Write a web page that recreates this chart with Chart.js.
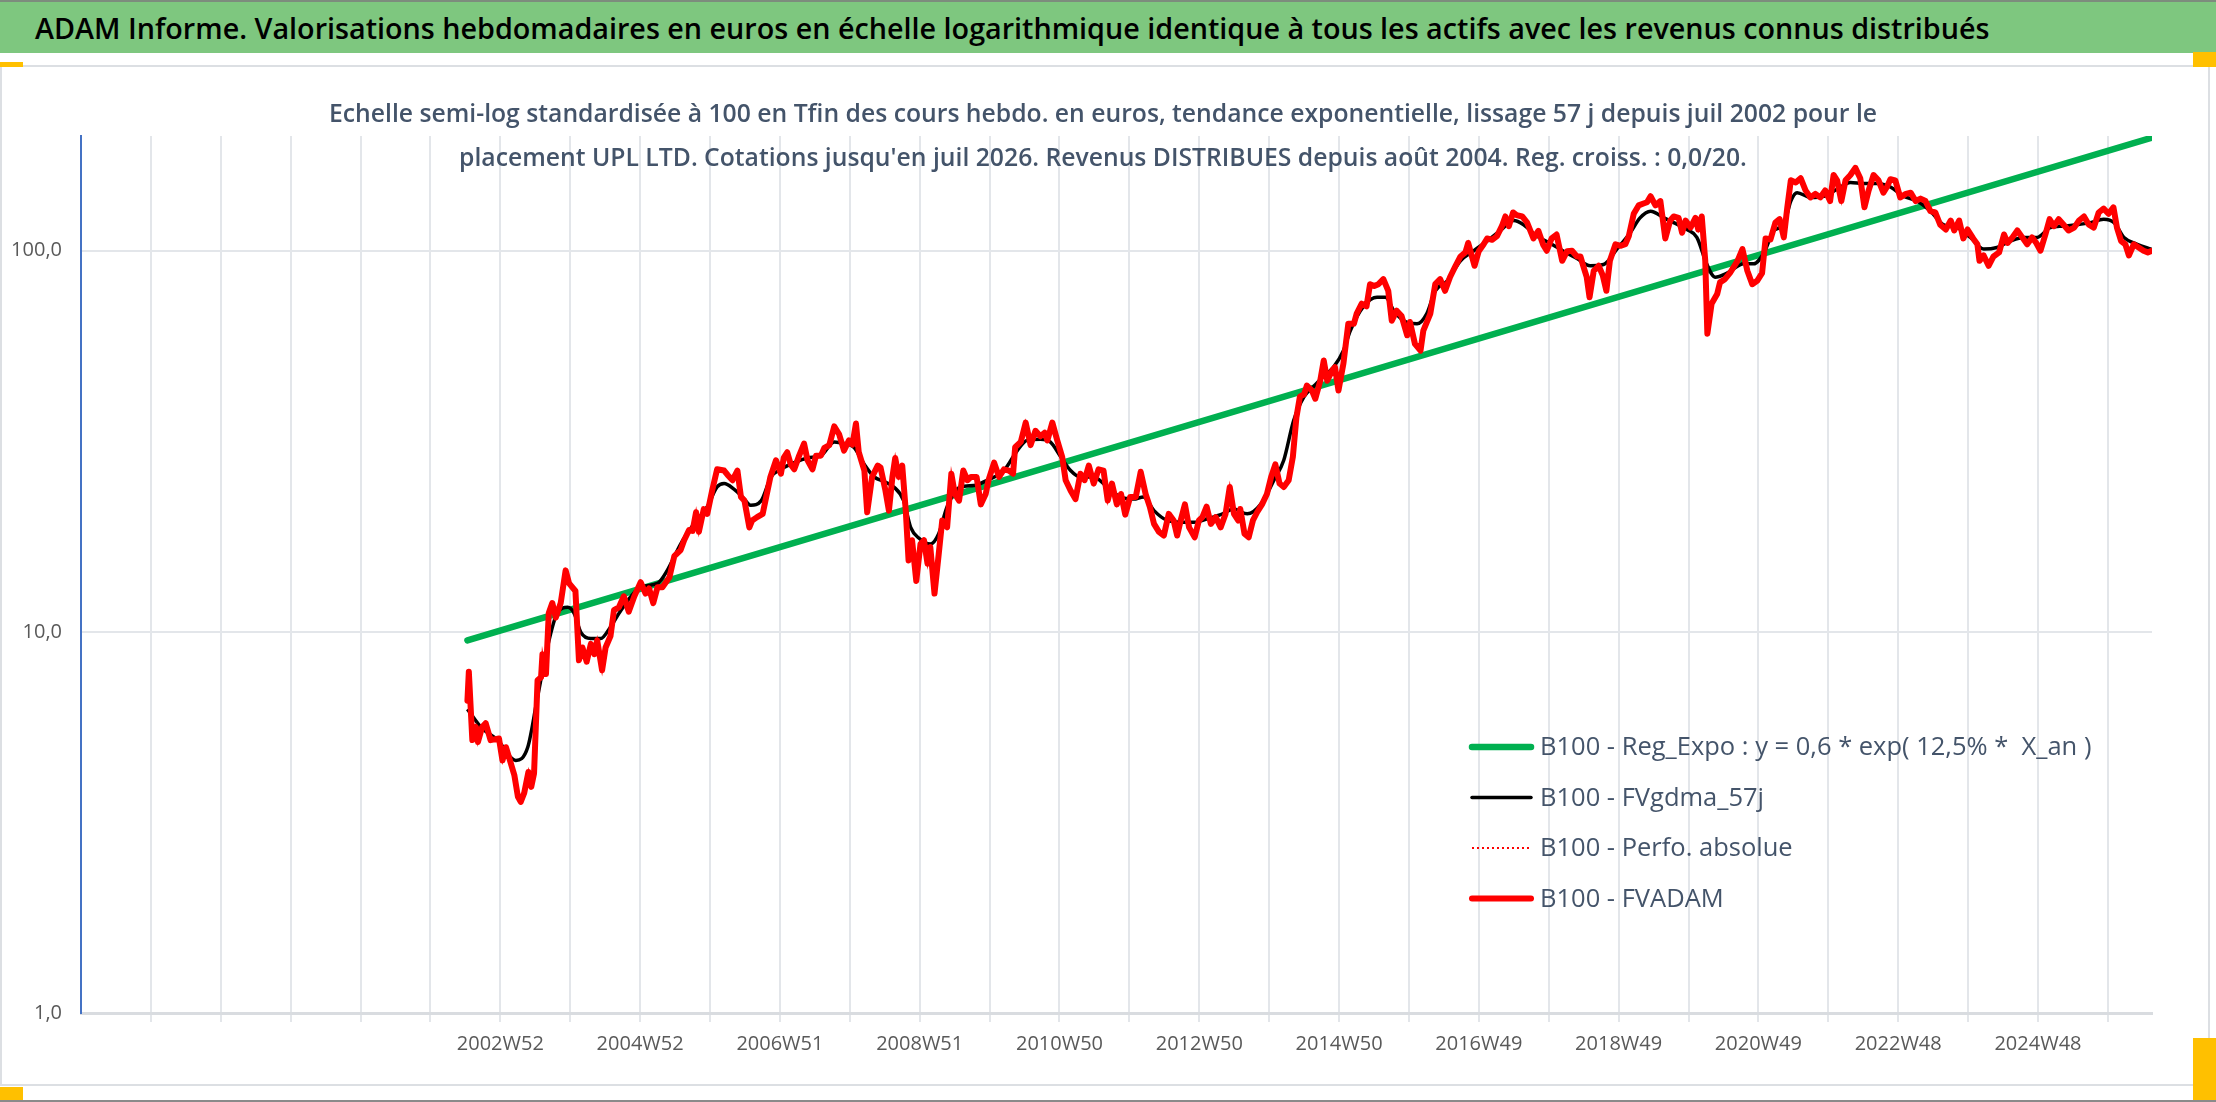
<!DOCTYPE html>
<html lang="fr">
<head>
<meta charset="utf-8">
<title>ADAM Informe - UPL LTD</title>
<script src="https://cdn.jsdelivr.net/npm/chart.js@4.4.1/dist/chart.umd.min.js"></script>
<style>
  html, body { margin: 0; padding: 0; background: #fff; }
  body { width: 2216px; height: 1102px; position: relative; overflow: hidden; font-family: "Open Sans", sans-serif; }
  .deco { position: absolute; pointer-events: none; }
  #topLine { left: 0; top: 0; width: 2216px; height: 2px; background: #7d8c7d; }
  #bar { left: 0; top: 2px; width: 2216px; height: 51px; background: #7ec77f; }
  #title { position: absolute; left: 35px; top: 0; line-height: 51px; white-space: nowrap; font-weight: 600; color: #000; font-size: 30px; }
  #frame { left: 0; top: 65px; width: 2206px; height: 1017px; border: 2px solid #dcdfe3; }
  .handle { background: #ffc000; }
  #bottomLine { left: 0; top: 1100px; width: 2216px; height: 2px; background: #8a8a8a; }
  #chartBox { position: absolute; left: 0; top: 0; width: 2216px; height: 1102px; }
  .sub { position: absolute; left: 0; width: 2206px; text-align: center; white-space: nowrap; color: #44546a; font-weight: 600; line-height: 44px; font-size: 24px; pointer-events: none; }
  #sub1 { top: 91px; }
  #sub2 { top: 135px; }
</style>
</head>
<body>
<div id="frame" class="deco"></div>
<div id="chartBox"><canvas id="chart"></canvas></div>
<div id="topLine" class="deco"></div>
<div id="bar" class="deco"><span id="title">ADAM Informe. Valorisations hebdomadaires en euros en échelle logarithmique identique à tous les actifs avec les revenus connus distribués</span></div>
<div class="deco handle" style="left:0;top:62px;width:23px;height:5px"></div>
<div class="deco handle" style="left:2193px;top:52px;width:23px;height:15px"></div>
<div class="deco handle" style="left:0;top:1087px;width:23px;height:13px"></div>
<div class="deco handle" style="left:2193px;top:1038px;width:23px;height:62px"></div>
<div id="bottomLine" class="deco"></div>
<div id="sub1" class="sub"><span>Echelle semi-log standardisée à 100 en Tfin des cours hebdo. en euros, tendance exponentielle, lissage 57 j depuis juil 2002 pour le</span></div>
<div id="sub2" class="sub"><span>placement UPL LTD. Cotations jusqu'en juil 2026. Revenus DISTRIBUES depuis août 2004. Reg. croiss. : 0,0/20.</span></div>
<script>
// X axis: decimal years, one grid line every 52 weeks, label every 104 weeks
const axisStart = 1997.0;
const axisEnd = 2026.53;
const tickLabels = ['', '', '', '', '', '', '2002W52', '', '2004W52', '', '2006W51', '', '2008W51', '', '2010W50', '',
  '2012W50', '', '2014W50', '', '2016W49', '', '2018W49', '', '2020W49', '', '2022W48', '', '2024W48', ''];
const yTicks = [1, 10, 100];

// B100 - FVADAM (weekly valuation, base 100 at the end)
const adamYears = [
  2002.51, 2002.53, 2002.58, 2002.63, 2002.66, 2002.72, 2002.77, 2002.84, 2002.96, 2003.01,
  2003.06, 2003.13, 2003.18, 2003.23, 2003.27, 2003.32, 2003.38, 2003.42, 2003.46, 2003.51,
  2003.56, 2003.58, 2003.63, 2003.67, 2003.72, 2003.77, 2003.84, 2003.91, 2003.96, 2004.05,
  2004.10, 2004.15, 2004.21, 2004.27, 2004.32, 2004.36, 2004.43, 2004.48, 2004.55, 2004.60,
  2004.67, 2004.74, 2004.81, 2004.89, 2004.98, 2005.05, 2005.10, 2005.16, 2005.22, 2005.29,
  2005.39, 2005.46, 2005.55, 2005.60, 2005.67, 2005.72, 2005.77, 2005.81, 2005.88, 2005.93,
  2006.00, 2006.07, 2006.17, 2006.22, 2006.29, 2006.36, 2006.41, 2006.46, 2006.53, 2006.57,
  2006.64, 2006.72, 2006.79, 2006.83, 2006.91, 2006.98, 2007.02, 2007.07, 2007.12, 2007.17,
  2007.24, 2007.31, 2007.36, 2007.43, 2007.48, 2007.55, 2007.60, 2007.67, 2007.74, 2007.81,
  2007.88, 2007.95, 2008.00, 2008.05, 2008.09, 2008.17, 2008.21, 2008.28, 2008.36,
  2008.40, 2008.47, 2008.52, 2008.57, 2008.61, 2008.66, 2008.71, 2008.76, 2008.80, 2008.85,
  2008.91, 2008.97, 2009.02, 2009.07, 2009.11, 2009.17, 2009.23, 2009.28, 2009.35, 2009.41,
  2009.46, 2009.52, 2009.58, 2009.64, 2009.69, 2009.77, 2009.83, 2009.90, 2009.94, 2010.02,
  2010.09, 2010.16, 2010.23, 2010.29, 2010.32, 2010.40, 2010.47, 2010.54, 2010.61, 2010.68,
  2010.74, 2010.78, 2010.85, 2010.92, 2010.99, 2011.04, 2011.11, 2011.18, 2011.25, 2011.31,
  2011.37, 2011.44, 2011.51, 2011.58, 2011.64, 2011.70, 2011.77, 2011.83, 2011.89, 2011.96,
  2012.04, 2012.11, 2012.18, 2012.24, 2012.30, 2012.37, 2012.44, 2012.51, 2012.58, 2012.63,
  2012.68, 2012.74, 2012.80, 2012.88, 2012.94, 2012.99, 2013.05, 2013.11, 2013.18, 2013.25,
  2013.32, 2013.38, 2013.44, 2013.50, 2013.53, 2013.59, 2013.65, 2013.71, 2013.77, 2013.84,
  2013.91, 2013.97, 2014.03, 2014.09, 2014.15, 2014.22, 2014.28, 2014.33, 2014.38, 2014.44,
  2014.48, 2014.55, 2014.60,
  2014.67, 2014.72, 2014.77, 2014.84, 2014.88, 2014.93, 2015.00, 2015.07, 2015.15, 2015.19,
  2015.26, 2015.33, 2015.38, 2015.44, 2015.50, 2015.57, 2015.64, 2015.69, 2015.76, 2015.83,
  2015.91, 2015.95, 2016.02, 2016.10, 2016.14, 2016.24, 2016.31, 2016.38, 2016.45, 2016.52,
  2016.60, 2016.67, 2016.74, 2016.78, 2016.87, 2016.93, 2017.00, 2017.05, 2017.12, 2017.19,
  2017.26, 2017.31, 2017.36, 2017.42, 2017.47, 2017.55, 2017.62, 2017.71, 2017.78, 2017.85,
  2017.90, 2017.97, 2018.04, 2018.12, 2018.19, 2018.26, 2018.33, 2018.38, 2018.42, 2018.47,
  2018.51, 2018.57, 2018.64, 2018.70, 2018.75, 2018.80, 2018.88, 2018.95, 2019.02, 2019.07,
  2019.14, 2019.21, 2019.28, 2019.33, 2019.38, 2019.45, 2019.52, 2019.59, 2019.66, 2019.71,
  2019.78, 2019.83, 2019.88, 2019.95, 2020.02, 2020.06, 2020.11, 2020.16, 2020.19, 2020.25,
  2020.33, 2020.37, 2020.44, 2020.51,
  2020.62, 2020.69, 2020.76, 2020.83, 2020.90, 2020.97, 2021.02, 2021.09, 2021.16, 2021.22,
  2021.28, 2021.33, 2021.38, 2021.45, 2021.52, 2021.59, 2021.66, 2021.73, 2021.80, 2021.87,
  2021.94, 2021.99, 2022.04, 2022.10, 2022.16, 2022.23, 2022.30, 2022.37, 2022.43, 2022.49,
  2022.56, 2022.63, 2022.70, 2022.75, 2022.80, 2022.87, 2022.94, 2023.02, 2023.09, 2023.16,
  2023.23, 2023.30, 2023.37, 2023.44, 2023.51, 2023.59, 2023.66, 2023.71, 2023.78, 2023.84,
  2023.90, 2023.98, 2024.04, 2024.07, 2024.13, 2024.20, 2024.27, 2024.35, 2024.42, 2024.47,
  2024.54, 2024.61, 2024.68, 2024.75, 2024.82, 2024.88, 2024.94, 2025.01, 2025.07, 2025.13,
  2025.20, 2025.27, 2025.34, 2025.42, 2025.49, 2025.56, 2025.63, 2025.70, 2025.77, 2025.84,
  2025.91, 2025.98, 2026.03, 2026.09, 2026.15, 2026.20, 2026.27, 2026.34, 2026.41, 2026.47,
  2026.53
];
const adamValues = [
  6.6, 7.86, 5.2, 5.63, 5.14, 5.63, 5.76, 5.2, 5.25, 4.6,
  4.98, 4.51, 4.2, 3.69, 3.58, 3.78, 4.29, 3.92, 4.25, 7.46,
  7.6, 8.74, 7.75, 11.2, 11.9, 10.9, 11.9, 14.5, 13.4, 12.8,
  8.42, 9.1, 8.35, 9.3, 8.74, 9.5, 7.93, 9.1, 9.75, 11.4,
  11.6, 12.4, 11.3, 12.4, 13.5, 12.6, 13.0, 11.9, 13.1, 13.1,
  13.9, 15.8, 16.4, 17.4, 18.5, 18.4, 20.6, 18.3, 21.0, 20.4,
  23.5, 26.7, 26.5, 25.8, 25.0, 26.5, 22.6, 22.1, 18.8, 19.6,
  20.0, 20.4, 23.5, 25.5, 28.2, 26.0, 28.6, 29.6, 27.5, 26.7,
  29.0, 31.2, 28.2, 26.7, 29.0, 29.0, 30.4, 30.9, 34.6, 33.0,
  29.9, 31.8, 31.0, 35.2, 29.6, 26.5, 20.6, 25.5, 27.3,
  27.0, 23.5, 20.8, 25.5, 28.6, 25.5, 27.3, 20.8, 15.4, 17.4,
  13.6, 17.0, 17.4, 15.1, 16.7, 12.6, 16.0, 19.6, 18.8, 26.0,
  23.0, 22.1, 26.5, 25.0, 25.5, 25.5, 21.6, 23.0, 25.0, 27.8,
  25.5, 26.7, 26.5, 26.0, 30.5, 31.5, 35.4, 30.9, 33.7, 32.6,
  33.3, 31.8, 35.4, 31.8, 28.8, 25.0, 23.5, 22.3, 26.0, 25.0,
  27.3, 24.5, 26.7, 26.5, 22.1, 24.5, 21.6, 23.0, 20.3, 22.6,
  22.6, 26.3, 23.0, 21.3, 19.2, 18.3, 17.9, 20.4, 19.6, 17.9,
  19.6, 21.6, 18.8, 17.7, 19.6, 20.0, 21.3, 19.2, 20.0, 18.8,
  20.4, 24.0, 20.4, 19.6, 21.0, 18.1, 17.7, 19.6, 20.6, 21.6,
  23.0, 25.5, 27.5, 24.5, 24.0, 25.0, 28.8, 36.5, 41.4, 42.0,
  44.3, 43.0, 40.9,
  45.6, 51.5, 45.6, 48.5, 49.5, 43.0, 50.5, 64.3, 64.3, 68.4,
  72.6, 71.5, 81.7, 80.8, 81.7, 84.2, 78.5, 65.5, 69.6, 67.4,
  60.0, 65.0, 57.0, 54.7, 61.7, 68.4, 81.7, 84.2, 78.5, 85.2,
  91.3, 96.6, 99.0, 104.8, 91.3, 99.7, 104, 107.7, 106.8, 109.2,
  116, 123, 116, 126, 124, 123, 118.5, 107.7, 112.8, 103.5,
  100, 107.7, 110.3, 94.1, 99.7, 100, 96.6, 96.6, 91.3, 85.2,
  75.5, 88.6, 91.3, 86.0, 78.5, 94.1, 104, 103, 104, 109.2,
  125, 131.5, 133, 134, 139, 131.5, 135, 107.7, 120, 123,
  122, 111.5, 120, 115, 122, 113.7, 123, 94.1, 60.6, 72.6,
  77.0, 82.6, 84.2, 87.3,
  94.1, 101, 88.6, 81.7, 83.4, 87.3, 107.7, 107, 118.5, 121,
  108.4, 130, 153, 151, 155, 144, 138, 141, 138, 144,
  135, 158, 153, 135, 153, 158, 165, 155, 130, 144,
  158, 153, 142, 147, 154, 153, 138, 141, 142, 135,
  137, 135, 127, 126, 117, 113.7, 120, 113, 120, 107.7,
  113.7, 107.7, 104, 94.1, 97.2, 91.3, 96.6, 99.0, 110.3, 104.8,
  108.4, 113, 108.4, 104, 108.4, 104.8, 100, 110.3, 121, 116,
  121, 117, 113, 115, 120, 123, 117, 115, 126, 129,
  125, 130, 115, 106, 104, 97.2, 104, 102, 100, 99,
  100
];

// B100 - FVgdma_57j (57-day smoothed)
const smoothYears = [
  2002.51, 2002.70, 2002.94, 2003.20, 2003.37, 2003.51, 2003.65, 2003.79, 2003.94, 2004.03,
  2004.13, 2004.27, 2004.41, 2004.55, 2004.70, 2004.98, 2005.22, 2005.36, 2005.55, 2005.74,
  2005.93, 2006.07, 2006.17, 2006.31, 2006.43, 2006.55, 2006.70, 2006.84, 2006.98, 2007.17,
  2007.36, 2007.55, 2007.74, 2007.88, 2008.02, 2008.17, 2008.31, 2008.45, 2008.59, 2008.73,
  2008.83, 2008.95, 2009.11, 2009.23, 2009.35, 2009.54, 2009.73, 2009.92, 2010.16, 2010.35,
  2010.49, 2010.68, 2010.82, 2010.97, 2011.11, 2011.25, 2011.44, 2011.63, 2011.82, 2012.01,
  2012.15, 2012.30, 2012.49, 2012.68, 2012.87, 2013.06, 2013.25, 2013.44, 2013.63, 2013.82,
  2014.01, 2014.15, 2014.29, 2014.44, 2014.58, 2014.70, 2014.86, 2015.00, 2015.10, 2015.29,
  2015.48, 2015.60, 2015.72, 2015.86, 2016.05, 2016.19, 2016.31, 2016.48, 2016.67, 2016.86,
  2017.05, 2017.24, 2017.43, 2017.57, 2017.76, 2017.95, 2018.14, 2018.33, 2018.52, 2018.71,
  2018.90, 2019.09, 2019.23, 2019.38, 2019.57, 2019.71, 2019.90, 2020.04, 2020.18, 2020.30,
  2020.47, 2020.71, 2020.85, 2021.00, 2021.14, 2021.28, 2021.38, 2021.47, 2021.66, 2021.85,
  2022.04, 2022.23, 2022.42, 2022.61, 2022.80, 2022.99, 2023.18, 2023.37, 2023.56, 2023.75,
  2023.94, 2024.13, 2024.32, 2024.51, 2024.70, 2024.89, 2025.08, 2025.27, 2025.46, 2025.65,
  2025.84, 2025.99, 2026.13, 2026.32, 2026.52
];
const smoothValues = [
  6.27, 5.63, 5.2, 4.6, 4.98, 6.75, 9.1, 11.2, 11.6, 11.2,
  9.95, 9.6, 9.6, 10.3, 11.4, 13.1, 13.4, 14.5, 17.0, 19.2,
  21.3, 24.0, 24.5, 23.7, 22.6, 21.5, 22.1, 25.5, 26.7, 27.8,
  28.6, 29.0, 31.5, 31.2, 30.5, 27.5, 25.5, 24.8, 24.0, 22.1,
  18.8, 17.6, 17.0, 18.1, 21.3, 24.0, 24.2, 25.0, 26.5, 29.9,
  31.8, 32.0, 31.5, 28.8, 26.5, 25.5, 25.5, 24.0, 22.6, 22.3,
  22.6, 20.8, 19.6, 19.4, 19.4, 19.8, 20.3, 21.0, 20.4, 21.6,
  25.0, 28.2, 35.8, 41.4, 44.1, 46.5, 49.5, 54.7, 61.7, 71.5,
  75.5, 75.5, 69.6, 65.5, 64.3, 68.4, 78.5, 83.4, 94.1, 100,
  106, 113, 120, 117, 109.2, 104.5, 99.7, 95.4, 91.3, 92,
  101, 111.5, 122, 127, 122, 118.5, 113.7, 108.4, 92.4, 85.2,
  87.3, 92.4, 92.4, 99.0, 113, 117, 135, 142, 138, 139,
  145, 151, 150, 150, 147, 139, 135, 127, 117, 115,
  108.4, 101, 102, 106, 108.4, 108.4, 115, 116, 117, 118.5,
  121, 118.5, 108.4, 104, 101
];

// B100 - Reg_Expo (exponential trend, straight on the log scale)
const trendYears = [2002.51, 2026.53];
const trendValues = [9.5, 198];

const toPoints = (xs, ys) => xs.map((x, i) => ({ x: x, y: ys[i] }));

// fit the html titles to the measured widths of the picture
function fitWidth(el, target) {
  const span = el.querySelector('span') || el;
  const w = span.getBoundingClientRect().width;
  const size = parseFloat(getComputedStyle(el).fontSize);
  el.style.fontSize = (size * target / w).toFixed(2) + 'px';
}
fitWidth(document.getElementById('title'), 1955);
fitWidth(document.getElementById('sub1'), 1549);
document.getElementById('sub2').style.fontSize = document.getElementById('sub1').style.fontSize;

// legend drawn inside the plot, bottom right
const insideLegend = {
  id: 'insideLegend',
  afterDraw(chart) {
    const ctx = chart.ctx;
    ctx.save();
    ctx.font = '25.5px "Open Sans"';
    ctx.textBaseline = 'middle';
    ctx.fillStyle = '#44546a';
    chart.data.datasets.forEach((ds, i) => {
      const y = 747 + i * 50.5;
      ctx.beginPath();
      ctx.strokeStyle = ds.borderColor;
      ctx.lineWidth = ds.legendWidth || ds.borderWidth;
      ctx.setLineDash(ds.borderDash || []);
      ctx.lineCap = ds.borderDash ? 'butt' : 'round';
      ctx.moveTo(1472, y);
      ctx.lineTo(1531, y);
      ctx.stroke();
      ctx.setLineDash([]);
      ctx.fillText(ds.label, 1540, y + 1);
    });
    ctx.restore();
  }
};

Chart.defaults.font.family = '"Open Sans", sans-serif';
const gridColor = '#e3e6ea';

new Chart(document.getElementById('chart'), {
  type: 'line',
  data: {
    datasets: [
      {
        label: 'B100 - Reg_Expo : y = 0,6 * exp( 12,5% *  X_an )',
        data: toPoints(trendYears, trendValues),
        borderColor: '#00b050',
        borderWidth: 6.5,
        borderCapStyle: 'round',
        order: 3
      },
      {
        label: 'B100 - FVgdma_57j',
        data: toPoints(smoothYears, smoothValues),
        borderColor: '#000000',
        borderWidth: 3.5,
        borderJoinStyle: 'round',
        cubicInterpolationMode: 'monotone',
        order: 2
      },
      {
        label: 'B100 - Perfo. absolue',
        data: toPoints(adamYears, adamValues),
        borderColor: '#ff0000',
        borderWidth: 2,
        borderDash: [2, 3],
        order: 1
      },
      {
        label: 'B100 - FVADAM',
        data: toPoints(adamYears, adamValues),
        borderColor: '#ff0000',
        borderWidth: 6,
        borderJoinStyle: 'round',
        borderCapStyle: 'round',
        order: 0
      }
    ]
  },
  options: {
    responsive: true,
    maintainAspectRatio: false,
    animation: false,
    elements: { point: { radius: 0 }, line: { tension: 0 } },
    layout: { padding: { left: 0, top: 136, right: 64, bottom: 29 } },
    plugins: { legend: { display: false }, tooltip: { enabled: false } },
    scales: {
      x: {
        type: 'linear',
        min: axisStart,
        max: axisEnd,
        afterBuildTicks: (scale) => {
          const step = 52 * 7 / 365.25;
          scale.ticks = tickLabels.map((_, k) => ({ value: axisStart + k * step }));
        },
        afterFit: (scale) => { scale.height = 60; },
        grid: {
          color: (c) => (c.index === 0 ? 'rgba(0,0,0,0)' : gridColor),
          lineWidth: 2,
          tickLength: 9
        },
        border: { color: '#d9dce0', width: 3 },
        ticks: {
          autoSkip: false,
          maxRotation: 0,
          minRotation: 0,
          padding: 10,
          color: '#595959',
          font: { size: 20 },
          callback: (value, index) => tickLabels[index] || ''
        }
      },
      y: {
        type: 'logarithmic',
        min: 1,
        max: 200,
        afterBuildTicks: (scale) => {
          scale.ticks = yTicks.map((v) => ({ value: v }));
        },
        afterFit: (scale) => { scale.width = 81; },
        grid: { color: gridColor, lineWidth: 2, drawTicks: false },
        border: { color: '#4472c4', width: 2 },
        ticks: {
          padding: 19,
          color: '#595959',
          font: { size: 20 },
          callback: (value) => Number(value).toFixed(1).replace('.', ',')
        }
      }
    }
  },
  plugins: [insideLegend]
});
</script>
</body>
</html>
